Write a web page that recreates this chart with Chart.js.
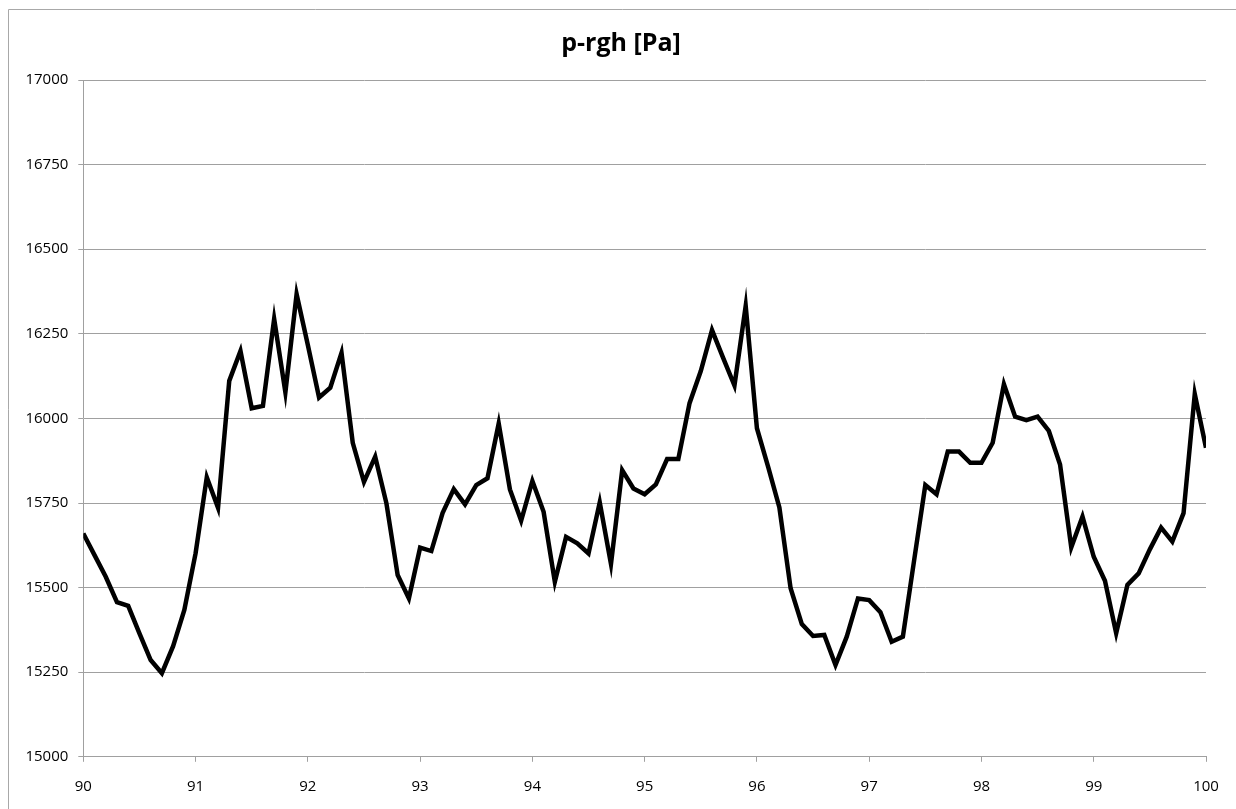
<!DOCTYPE html>
<html>
<head>
<meta charset="utf-8">
<title>p-rgh [Pa]</title>
<script src="https://cdn.jsdelivr.net/npm/chart.js@4/dist/chart.umd.min.js"></script>
<style>
  html, body { margin: 0; padding: 0; background: #ffffff; }
  #wrap { position: relative; width: 1236px; height: 809px; }
  canvas { display: block; }
</style>
</head>
<body>
<div id="wrap"><canvas id="chart" width="1236" height="809"></canvas></div>
<script>
// Simulation time [s], sampled every 0.1 s
const times = [
  90.0, 90.1, 90.2, 90.3, 90.4, 90.5, 90.6, 90.7, 90.8, 90.9,
  91.0, 91.1, 91.2, 91.3, 91.4, 91.5, 91.6, 91.7, 91.8, 91.9,
  92.0, 92.1, 92.2, 92.3, 92.4, 92.5, 92.6, 92.7, 92.8, 92.9,
  93.0, 93.1, 93.2, 93.3, 93.4, 93.5, 93.6, 93.7, 93.8, 93.9,
  94.0, 94.1, 94.2, 94.3, 94.4, 94.5, 94.6, 94.7, 94.8, 94.9,
  95.0, 95.1, 95.2, 95.3, 95.4, 95.5, 95.6, 95.7, 95.8, 95.9,
  96.0, 96.1, 96.2, 96.3, 96.4, 96.5, 96.6, 96.7, 96.8, 96.9,
  97.0, 97.1, 97.2, 97.3, 97.4, 97.5, 97.6, 97.7, 97.8, 97.9,
  98.0, 98.1, 98.2, 98.3, 98.4, 98.5, 98.6, 98.7, 98.8, 98.9,
  99.0, 99.1, 99.2, 99.3, 99.4, 99.5, 99.6, 99.7, 99.8, 99.9,
  100.0
];

// p-rgh [Pa] at each time step
const pRgh = [
  15660, 15596, 15532, 15457, 15446, 15365, 15286, 15247, 15327, 15434,
  15601, 15826, 15736, 16111, 16199, 16030, 16037, 16294, 16077, 16367,
  16217, 16062, 16091, 16194, 15928, 15812, 15887, 15749, 15537, 15468,
  15618, 15608, 15720, 15791, 15746, 15803, 15823, 15985, 15790, 15698,
  15815, 15724, 15517, 15650, 15631, 15601, 15752, 15570, 15847, 15793,
  15776, 15805, 15880, 15880, 16045, 16140, 16261, 16178, 16097, 16332,
  15971, 15857, 15737, 15498, 15392, 15357, 15360, 15271, 15355, 15468,
  15463, 15427, 15340, 15355, 15580, 15803, 15776, 15902, 15902, 15869,
  15869, 15928, 16101, 16005, 15995, 16005, 15963, 15864, 15619, 15710,
  15591, 15520, 15365, 15508, 15542, 15613, 15677, 15636, 15720, 16072,
  15913
];

// Axis ranges and tick spacing
const xRange = [90, 100];
const xStep = 1;
const yRange = [15000, 17000];
const yStep = 250;

const chartTitle = 'p-rgh [Pa]';

const gridColor = '#a0a0a0';
const fontFamily = '"Open Sans", "Liberation Sans", sans-serif';
const labelFont = { family: fontFamily, size: 15 };

// Light frame along the top and left edges, plus the centred title
const framePlugin = {
  id: 'frame',
  beforeDraw(chart) {
    const ctx = chart.ctx;
    ctx.save();
    ctx.strokeStyle = '#a8a8a8';
    ctx.lineWidth = 1;
    ctx.beginPath();
    ctx.moveTo(8.5, chart.height);
    ctx.lineTo(8.5, 9.5);
    ctx.lineTo(chart.width, 9.5);
    ctx.stroke();
    ctx.restore();
  },
  afterDraw(chart) {
    const ctx = chart.ctx;
    ctx.save();
    ctx.fillStyle = '#000000';
    ctx.font = 'bold 25px ' + fontFamily;
    ctx.textAlign = 'center';
    ctx.textBaseline = 'alphabetic';
    ctx.fillText(chartTitle, 621, 51);
    ctx.restore();
  }
};

const points = times.map((t, i) => ({ x: t, y: pRgh[i] }));

new Chart(document.getElementById('chart'), {
  type: 'line',
  data: {
    datasets: [{
      label: chartTitle,
      data: points,
      borderColor: '#000000',
      borderWidth: 4.5,
      borderJoinStyle: 'miter',
      borderCapStyle: 'butt',
      tension: 0,
      pointRadius: 0,
      fill: false
    }]
  },
  options: {
    responsive: false,
    animation: false,
    devicePixelRatio: 1,
    layout: { padding: { left: 0, right: 30, top: 80, bottom: 0 } },
    plugins: {
      legend: { display: false },
      tooltip: { enabled: false },
      title: { display: false }
    },
    scales: {
      x: {
        type: 'linear',
        min: xRange[0],
        max: xRange[1],
        afterFit(scale) { scale.height = 52.2; },
        ticks: {
          stepSize: xStep,
          color: '#000000',
          font: labelFont,
          padding: 16,
          maxRotation: 0,
          callback: (v) => String(v)
        },
        grid: {
          drawOnChartArea: false,
          drawTicks: true,
          tickLength: 5,
          color: gridColor,
          lineWidth: 1
        },
        border: { display: true, color: gridColor, width: 1 }
      },
      y: {
        type: 'linear',
        min: yRange[0],
        max: yRange[1],
        afterFit(scale) { scale.width = 83.3; },
        ticks: {
          stepSize: yStep,
          color: '#000000',
          font: labelFont,
          padding: 10,
          callback: (v) => String(v)
        },
        grid: {
          drawOnChartArea: true,
          drawTicks: true,
          tickLength: 5,
          color: gridColor,
          lineWidth: 1
        },
        border: { display: true, color: gridColor, width: 1 }
      }
    }
  },
  plugins: [framePlugin]
});
</script>
</body>
</html>
